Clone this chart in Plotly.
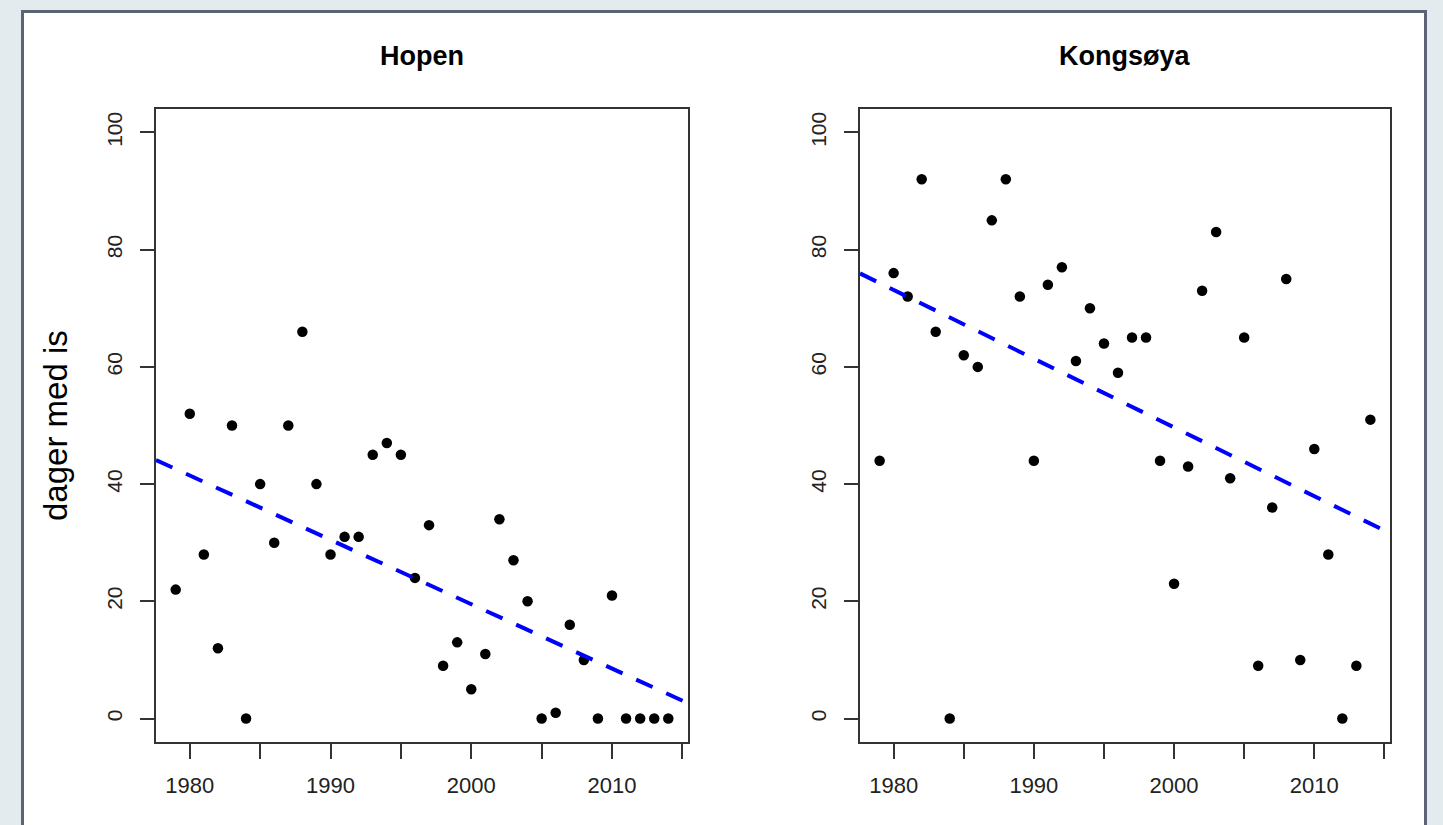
import numpy as np
import plotly.graph_objects as go

years = list(range(1979, 2015))
hopen = [22, 52, 28, 12, 50, 0, 40, 30, 50, 66, 40, 28, 31, 31, 45, 47, 45, 24,
         33, 9, 13, 5, 11, 34, 27, 20, 0, 1, 16, 10, 0, 21, 0, 0, 0, 0]
kongsoya = [44, 76, 72, 92, 66, 0, 62, 60, 85, 92, 72, 44, 74, 77, 61, 70, 64, 59,
            65, 65, 44, 23, 43, 73, 83, 41, 65, 9, 36, 75, 10, 46, 28, 0, 9, 51]
titles = ["Hopen", "Kongsøya"]
y_label = "dager med is"
x_tickvals = [1980, 1985, 1990, 1995, 2000, 2005, 2010, 2015]
x_ticktext = ["1980", "", "1990", "", "2000", "", "2010", ""]
y_tickvals = [0, 20, 40, 60, 80, 100]

W, H = 1443, 825
xr = [1977.6, 2015.4]
yr = [-4, 104]
FONT = "Liberation Sans, Arial, sans-serif"
AX = "#333333"

fig = go.Figure()
series = [hopen, kongsoya]
for i, vals in enumerate(series):
    suffix = "" if i == 0 else str(i + 1)
    fig.add_trace(go.Scatter(x=years, y=vals, mode="markers",
                             marker=dict(size=10.5, color="black", line=dict(width=0)),
                             xaxis="x" + suffix, yaxis="y" + suffix, showlegend=False))
    b, a = np.polyfit(years, vals, 1)
    fig.add_trace(go.Scatter(x=xr, y=[a + b * xr[0], a + b * xr[1]], mode="lines",
                             line=dict(color="#0000ff", width=4, dash="18px,15px"),
                             xaxis="x" + suffix, yaxis="y" + suffix, showlegend=False,
                             cliponaxis=True))

def xax(dom):
    return dict(domain=dom, range=xr, showgrid=False, zeroline=False, showline=True,
                mirror=True, linecolor=AX, linewidth=2, ticks="outside", ticklen=15,
                tickwidth=1.5, tickcolor=AX, tickvals=x_tickvals, ticktext=x_ticktext,
                tickfont=dict(family=FONT, size=22, color="#222"), ticklabelstandoff=8)

def yax(anchor, dom):
    return dict(domain=dom, range=yr, anchor=anchor, showgrid=False, zeroline=False,
                showline=True, mirror=True, linecolor=AX, linewidth=2, ticks="outside",
                ticklen=14, tickwidth=1.5, tickcolor=AX, tickvals=y_tickvals,
                tickangle=-90, tickfont=dict(family=FONT, size=21, color="#222"),
                ticklabelstandoff=10)

ydom = [(H - 742) / H, (H - 109) / H]
fig.update_layout(
    width=W, height=H, margin=dict(l=0, r=0, t=0, b=0),
    paper_bgcolor="#e4ebef", plot_bgcolor="white",
    xaxis=dict(xax([156 / W, 688 / W]), anchor="y"),
    yaxis=yax("x", ydom),
    xaxis2=dict(xax([860 / W, 1390 / W]), anchor="y2"),
    yaxis2=yax("x2", ydom),
    shapes=[dict(type="rect", xref="paper", yref="paper", x0=22.5 / W, x1=1425.5 / W,
                 y0=-0.05, y1=(H - 11.5) / H, line=dict(color="#5c6372", width=3),
                 fillcolor="white", layer="below")],
    annotations=[
        dict(text="<b>" + titles[0] + "</b>", x=422 / W, y=(H - 56) / H, xref="paper",
             yref="paper", showarrow=False, xanchor="center", yanchor="middle",
             font=dict(family=FONT, size=27, color="black")),
        dict(text="<b>" + titles[1] + "</b>", x=1125 / W, y=(H - 56) / H, xref="paper",
             yref="paper", showarrow=False, xanchor="center", yanchor="middle",
             font=dict(family=FONT, size=27, color="black")),
        dict(text=y_label, x=55 / W, y=(H - 426) / H, xref="paper", yref="paper",
             showarrow=False, textangle=-90, xanchor="center", yanchor="middle",
             font=dict(family=FONT, size=33, color="black")),
    ],
)

fig.write_html(
    "out.html",
    config={"displayModeBar": False},
    post_script="document.body.style.margin='0';document.body.style.overflow='hidden';"
                "document.body.style.background='#e4ebef';",
)
